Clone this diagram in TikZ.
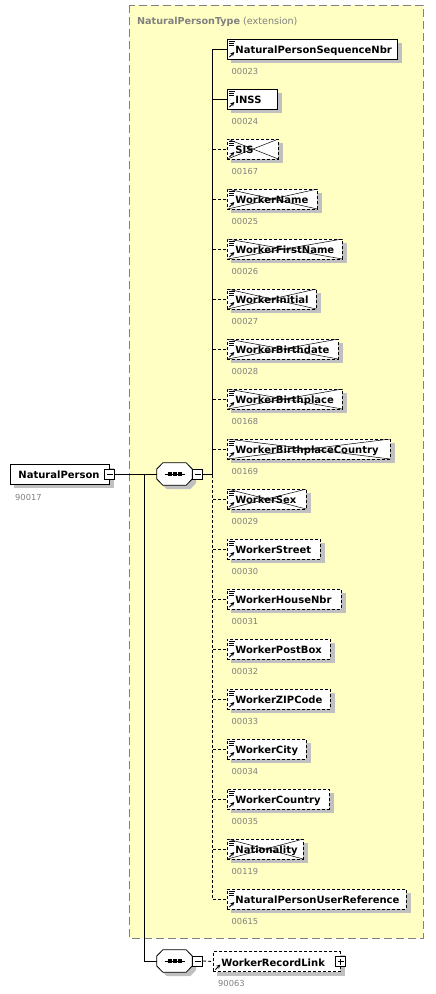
\documentclass[tikz,border=0pt]{standalone}
\usepackage{fontspec}
\setmainfont{DejaVu Sans}
\usepackage{tikz}
\usetikzlibrary{positioning,calc}
\definecolor{extfill}{HTML}{FFFFC4}
\definecolor{shadowgray}{HTML}{C0C0C0}
\definecolor{numgray}{HTML}{808080}
\hyphenpenalty=10000
\exhyphenpenalty=10000
\pgfdeclarelayer{background}
\pgfdeclarelayer{shadows}
\pgfsetlayers{background,shadows,main}
\tikzstyle{conn}=[line width=0.8pt]
\tikzstyle{opt}=[dash pattern=on 3pt off 2pt]
\newcommand\elemlines{%
  \draw[solid, line width=0.7pt] ([xshift=2pt,yshift=-2pt]path picture bounding box.north west) -- ++(6pt,0pt)
    ([xshift=2pt,yshift=-4pt]path picture bounding box.north west) -- ++(5pt,0pt)
    ([xshift=2pt,yshift=-6pt]path picture bounding box.north west) -- ++(5pt,0pt);}
\newcommand\elemarrow{%
  \draw[solid, line width=0.9pt, -stealth] ([xshift=2pt,yshift=2pt]path picture bounding box.south west) -- ++(5pt,5pt);}
\newcommand\elemcross{%
  \draw[solid, line width=0.5pt] (path picture bounding box.north west) -- (path picture bounding box.south east)
    (path picture bounding box.south west) -- (path picture bounding box.north east);}
% octagon of a sequence compositor: options, node, x and y offset
\newcommand\seqshape[4]{%
  \path[#1] ($(#2.west)+(#3,5pt+#4)$) -- ($(#2.north west)+(6pt+#3,#4)$) -- ($(#2.north east)+(-6pt+#3,#4)$)
    -- ($(#2.east)+(#3,5pt+#4)$) -- ($(#2.east)+(#3,-5pt+#4)$) -- ($(#2.south east)+(-6pt+#3,#4)$)
    -- ($(#2.south west)+(6pt+#3,#4)$) -- ($(#2.west)+(#3,-5pt+#4)$) -- cycle;}
\newcommand\seqdots[1]{%
  \draw[line width=0.8pt] ($(#1.center)+(-10pt,0pt)$) -- ($(#1.center)+(10pt,0pt)$);
  \fill ($(#1.center)+(-7pt,-2pt)$) rectangle +(4pt,4pt);
  \fill ($(#1.center)+(-2pt,-2pt)$) rectangle +(4pt,4pt);
  \fill ($(#1.center)+(3pt,-2pt)$) rectangle +(4pt,4pt);}

\begin{document}
\begin{tikzpicture}[x=1pt,y=-1pt,
    elem/.style={draw, fill=white, line width=0.8pt, anchor=west, minimum height=20pt,
      inner xsep=5pt, inner ysep=0pt, text height=9.5pt, text depth=0pt, align=left,
      font=\fontsize{10}{12}\selectfont\bfseries, execute at begin node=\hspace*{3pt},
      path picture={\elemlines\elemarrow}},
    crossed/.style={opt, path picture={\elemcross\elemlines\elemarrow}},
    num/.style={text=numgray, font=\fontsize{8.3}{10}\selectfont, inner sep=0pt},
    seq/.style={minimum width=35pt, minimum height=22pt, inner sep=0pt},
    pm/.style={draw, fill=white, line width=0.8pt, minimum size=10pt, inner sep=0pt},
    minus/.style={pm, path picture={\draw[solid] ([xshift=-3pt]path picture bounding box.center) -- ([xshift=3pt]path picture bounding box.center);}},
    plus/.style={pm, path picture={\draw[solid] ([xshift=-3pt]path picture bounding box.center) -- ([xshift=3pt]path picture bounding box.center)
      ([yshift=-3pt]path picture bounding box.center) -- ([yshift=3pt]path picture bounding box.center);}}]
  \useasboundingbox (0,0) rectangle (436,994);

  % extension box
  \begin{pgfonlayer}{background}
    \draw[numgray, fill=extfill, line width=0.8pt, dash pattern=on 8pt off 4pt] (129,5) rectangle (423,938);
  \end{pgfonlayer}
  \node [anchor=base west, text=numgray, inner sep=0pt, font=\fontsize{9.6}{12}\selectfont] (title) at (137,24)
    {\textbf{NaturalPersonType} (extension)};

  % root element and compositors
  \node [elem, path picture={}, text width=89pt, anchor=west] (np) at (10,474) {NaturalPerson};
  \node [minus] (npm) at (np.east) {};
  \node [num, below right=9.5pt and 5pt of np.south west] (npnum) {90017};

  \node [seq] (seq1) at (174.5,474) {};
  \seqshape{draw, fill=white, line width=0.8pt}{seq1}{0pt}{0pt}
  \seqdots{seq1}
  \node [minus, anchor=west] (seq1m) at (seq1.east) {};
  \node [seq] (seq2) at (174.5,961) {};
  \seqshape{draw, fill=white, line width=0.8pt}{seq2}{0pt}{0pt}
  \seqdots{seq2}
  \node [minus, anchor=west] (seq2m) at (seq2.east) {};

  \node [elem, opt, path picture={\elemarrow}, text width=117pt] (wrl) at (213,961.5) {WorkerRecordLink};
  \node [plus] (wrlp) at (wrl.east) {};
  \node [num, below right=8.5pt and 5pt of wrl.south west] (wrlnum) {90063};

  % child elements
  \node [elem, text width=160pt]  (seqnbr)    at (227,49)  {NaturalPersonSequenceNbr};
  \node [elem, text width=40pt]   (inss)      at (227,99)  {INSS};
  \node [elem, crossed, text width=41pt]  (sis)       at (227,149) {SIS};
  \node [elem, crossed, text width=80pt]  (wname)     at (227,199) {WorkerName};
  \node [elem, crossed, text width=105pt] (wfirst)    at (227,249) {WorkerFirstName};
  \node [elem, crossed, text width=79pt]  (winitial)  at (227,299) {WorkerInitial};
  \node [elem, crossed, text width=101pt] (wbdate)    at (227,349) {WorkerBirthdate};
  \node [elem, crossed, text width=105pt] (wbplace)   at (227,399) {WorkerBirthplace};
  \node [elem, crossed, text width=153pt] (wbcountry) at (227,449) {WorkerBirthplaceCountry};
  \node [elem, crossed, text width=69pt]  (wsex)      at (227,499) {WorkerSex};
  \node [elem, opt, text width=83pt]      (wstreet)   at (227,549) {WorkerStreet};
  \node [elem, opt, text width=104pt]     (whouse)    at (227,599) {WorkerHouseNbr};
  \node [elem, opt, text width=93pt]      (wpostbox)  at (227,649) {WorkerPostBox};
  \node [elem, opt, text width=93pt]      (wzip)      at (227,699) {WorkerZIPCode};
  \node [elem, opt, text width=69pt]      (wcity)     at (227,749) {WorkerCity};
  \node [elem, opt, text width=92pt]      (wcountry)  at (227,799) {WorkerCountry};
  \node [elem, crossed, text width=66pt]  (nation)    at (227,849) {Nationality};
  \node [elem, opt, text width=169pt]     (npuref)    at (227,899) {NaturalPersonUserReference};

  \node [num, below right=8.5pt and 4.5pt of seqnbr.south west]    {00023};
  \node [num, below right=8.5pt and 4.5pt of inss.south west]      {00024};
  \node [num, below right=8.5pt and 4.5pt of sis.south west]       {00167};
  \node [num, below right=8.5pt and 4.5pt of wname.south west]     {00025};
  \node [num, below right=8.5pt and 4.5pt of wfirst.south west]    {00026};
  \node [num, below right=8.5pt and 4.5pt of winitial.south west]  {00027};
  \node [num, below right=8.5pt and 4.5pt of wbdate.south west]    {00028};
  \node [num, below right=8.5pt and 4.5pt of wbplace.south west]   {00168};
  \node [num, below right=8.5pt and 4.5pt of wbcountry.south west] {00169};
  \node [num, below right=8.5pt and 4.5pt of wsex.south west]      {00029};
  \node [num, below right=8.5pt and 4.5pt of wstreet.south west]   {00030};
  \node [num, below right=8.5pt and 4.5pt of whouse.south west]    {00031};
  \node [num, below right=8.5pt and 4.5pt of wpostbox.south west]  {00032};
  \node [num, below right=8.5pt and 4.5pt of wzip.south west]      {00033};
  \node [num, below right=8.5pt and 4.5pt of wcity.south west]     {00034};
  \node [num, below right=8.5pt and 4.5pt of wcountry.south west]  {00035};
  \node [num, below right=8.5pt and 4.5pt of nation.south west]    {00119};
  \node [num, below right=8.5pt and 4.5pt of npuref.south west]    {00615};

  % shadows
  \begin{pgfonlayer}{shadows}
    \foreach \n in {np,wrl,seqnbr,inss,sis,wname,wfirst,winitial,wbdate,wbplace,wbcountry,
                    wsex,wstreet,whouse,wpostbox,wzip,wcity,wcountry,nation,npuref}
      \fill[shadowgray] ($(\n.south west)+(4pt,-4pt)$) rectangle ($(\n.north east)+(4pt,-4pt)$);
    \seqshape{fill=shadowgray}{seq1}{4pt}{-4pt}
    \seqshape{fill=shadowgray}{seq2}{4pt}{-4pt}
  \end{pgfonlayer}

  % connectors
  \draw [conn] (npm.east) -- (seq1.west);
  \draw [conn] (npm.east) -- ++(29pt,0pt) |- (seq2.west);
  \draw [conn, opt] (seq2m.east) -- (wrl.west);
  \draw [conn] (seq1m.east) -- ++(9pt,0pt) |- (seqnbr.west);
  \draw [conn] (seq1m.east) -- ++(9pt,0pt) |- (inss.west);
  \draw [conn, opt] (seq1m.east) -- ++(9pt,0pt) |- (sis.west);
  \draw [conn, opt] (seq1m.east) -- ++(9pt,0pt) |- (wname.west);
  \draw [conn, opt] (seq1m.east) -- ++(9pt,0pt) |- (wfirst.west);
  \draw [conn, opt] (seq1m.east) -- ++(9pt,0pt) |- (winitial.west);
  \draw [conn, opt] (seq1m.east) -- ++(9pt,0pt) |- (wbdate.west);
  \draw [conn, opt] (seq1m.east) -- ++(9pt,0pt) |- (wbplace.west);
  \draw [conn, opt] (seq1m.east) -- ++(9pt,0pt) |- (wbcountry.west);
  \draw [conn, opt] (seq1m.east) -- ++(9pt,0pt) |- (wsex.west);
  \draw [conn, opt] (seq1m.east) -- ++(9pt,0pt) |- (wstreet.west);
  \draw [conn, opt] (seq1m.east) -- ++(9pt,0pt) |- (whouse.west);
  \draw [conn, opt] (seq1m.east) -- ++(9pt,0pt) |- (wpostbox.west);
  \draw [conn, opt] (seq1m.east) -- ++(9pt,0pt) |- (wzip.west);
  \draw [conn, opt] (seq1m.east) -- ++(9pt,0pt) |- (wcity.west);
  \draw [conn, opt] (seq1m.east) -- ++(9pt,0pt) |- (wcountry.west);
  \draw [conn, opt] (seq1m.east) -- ++(9pt,0pt) |- (nation.west);
  \draw [conn, opt] (seq1m.east) -- ++(9pt,0pt) |- (npuref.west);
\end{tikzpicture}
\end{document}
